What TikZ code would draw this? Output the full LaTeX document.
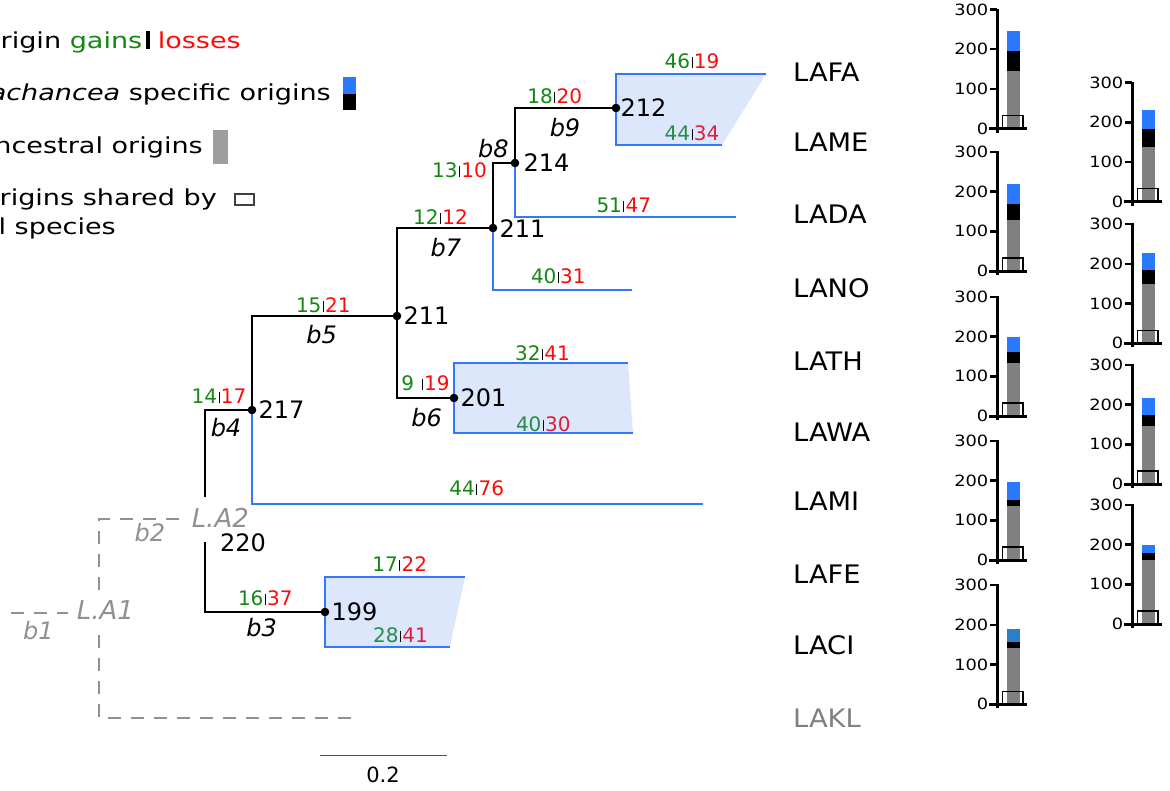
\documentclass[tikz,border=0pt]{standalone}
\usepackage{fontspec}
\setmainfont{DejaVu Sans}
\newfontfamily\legf{DejaVu Sans}[FakeStretch=1.23]
\newfontfamily\taxf{DejaVu Sans}[FakeStretch=1.07]
\newfontfamily\tickf{DejaVu Sans}[FakeStretch=1.15]
\definecolor{ggreen}{RGB}{20,135,20}
\definecolor{lred}{RGB}{255,10,10}
\definecolor{bgreen}{RGB}{40,140,70}
\definecolor{bred}{RGB}{225,30,60}
\definecolor{treeblue}{RGB}{50,120,255}
\definecolor{boxfill}{RGB}{221,231,252}
\definecolor{barblue}{RGB}{41,121,255}
\definecolor{barteal}{RGB}{41,128,200}
\definecolor{bargray}{RGB}{128,128,128}
\definecolor{leggray}{RGB}{158,158,158}
\definecolor{dashgray}{RGB}{145,145,145}
\definecolor{scalegray}{RGB}{80,80,80}
\newcommand\gl[2]{{\color{ggreen}#1}\kern1.5pt{\color{black}\rule[0.5pt]{0.7pt}{11pt}}\kern1.5pt{\color{lred}#2}}
\newcommand\glb[2]{{\color{bgreen}#1}\kern1.5pt{\color{black}\rule[0.5pt]{0.7pt}{11pt}}\kern1.5pt{\color{bred}#2}}
\newcommand\mybarchart[6]{%
  \fill[bargray] (#1+9.5,#2) rectangle (#1+23,#2-#3*0.397);
  \fill[black] (#1+9.5,#2-#3*0.397) rectangle (#1+23,#2-#4*0.397);
  \fill[#6] (#1+9.5,#2-#4*0.397) rectangle (#1+23,#2-#5*0.397);
  \draw[line width=1.4pt] (#1+5.5,#2) rectangle (#1+26,#2-33*0.397);
  \draw[line width=3pt] (#1,#2+4) -- (#1,#2-120);
  \draw[line width=3pt] (#1-8,#2) -- (#1+30,#2);
  \foreach \v in {0,100,200,300}{%
    \draw[line width=2.5pt] (#1-7,#2-\v*0.397) -- (#1,#2-\v*0.397);
    \node[ticklab] at (#1-8.5,#2-\v*0.397) {\v};}%
}
\begin{document}
\begin{tikzpicture}[x=1pt,y=-1pt,
  tree/.style={line width=2.2pt,color=black},
  btree/.style={line width=2.2pt,color=treeblue},
  grdash/.style={line width=2.2pt,color=dashgray,dash pattern=on 13pt off 10pt},
  leg/.style={inner sep=0pt,anchor=base east,font=\legf\fontsize{22}{26}\selectfont},
  taxon/.style={anchor=west,inner sep=0pt,font=\taxf\fontsize{25.5}{25}\selectfont},
  numlab/.style={anchor=west,inner sep=0pt,font=\fontsize{24}{24}\selectfont},
  gllab/.style={inner sep=0pt,font=\fontsize{20}{20}\selectfont},
  blab/.style={inner sep=0pt,font=\fontsize{24}{24}\selectfont\itshape},
  galab/.style={inner sep=0pt,text=dashgray,font=\fontsize{26}{26}\selectfont\itshape},
  ticklab/.style={anchor=east,inner sep=0pt,font=\tickf\fontsize{15.5}{16}\selectfont},
  dot/.style={fill=black}]
\useasboundingbox (0,0) rectangle (1170,790);
\clip (0,0) rectangle (1170,790);
\fill[white] (0,0) rectangle (1170,790);

% legend
\node[leg] (leg1) at (241,48) {Origin {\color{ggreen}gains}\kern4pt\rule[-1.3pt]{3.5pt}{18.6pt}\kern8pt{\color{lred}losses}};
\node[leg] (leg2) at (331,100) {\textit{Lachancea} specific origins};
\fill[barblue] (343,77) rectangle (356,93.5);
\fill[black] (343,93.5) rectangle (356,110);
\node[leg] (leg3) at (203,153) {Ancestral origins};
\fill[leggray] (213,130) rectangle (228,164);
\node[leg] (leg4) at (217,205) {Origins shared by};
\draw[line width=1.5pt,color=black!75,fill=white] (235,194) rectangle (254,205);
\node[leg] (leg5) at (116,234) {all species};

% coordinates of tree nodes
\coordinate (d217) at (252,410);
\coordinate (d211a) at (397,316);
\coordinate (d211b) at (493,228);
\coordinate (d214) at (515,163);
\coordinate (d212) at (616,108);
\coordinate (d201) at (454,398);
\coordinate (d199) at (325,612);
\coordinate (a2up) at (205,497);
\coordinate (a2dn) at (205,542);
\coordinate (eLAMI) at (703,504);
\coordinate (eLANO) at (632,290);
\coordinate (eLADA) at (736,217);

% collapsed clades
\fill[boxfill] (616,74) -- (766,74) -- (722,145) -- (616,145) -- cycle;
\draw[btree] (722,145) -- (616,145) -- (616,74) -- (766,74);
\fill[boxfill] (454,363) -- (628,363) -- (633,433) -- (454,433) -- cycle;
\draw[btree] (633,433) -- (454,433) -- (454,363) -- (628,363);
\fill[boxfill] (325,577) -- (465,577) -- (450,647) -- (325,647) -- cycle;
\draw[btree] (450,647) -- (325,647) -- (325,577) -- (465,577);

% blue terminal branches
\draw[btree] (d217) |- (eLAMI);
\draw[btree] (d211b) |- (eLANO);
\draw[btree] (d214) |- (eLADA);

% black branches
\draw[tree] (a2up) |- (d217);
\draw[tree] (d217) |- (d211a);
\draw[tree] (d211a) |- (d211b);
\draw[tree] (d211a) |- (d201);
\draw[tree] (d211b) |- (d214);
\draw[tree] (d214) |- (d212);
\draw[tree] (a2dn) |- (d199);
\foreach \p in {d217,d211a,d211b,d214,d212,d201,d199}
  \fill[dot] (\p) circle[radius=4.3pt];

% dashed ancestral branches
\coordinate (b1s) at (11,613);
\coordinate (b1e) at (68,613);
\coordinate (vtop) at (99,519);
\coordinate (vgap1) at (99,590);
\coordinate (vgap2) at (99,635);
\coordinate (vbot) at (99,718);
\coordinate (a2w) at (180,519);
\coordinate (klend) at (356,718);
\draw[grdash] (b1s) -- (b1e);
\draw[grdash] (vgap1) -- (vtop) -- (a2w);
\draw[grdash] (vgap2) -- (vbot) -- (klend);

% node values
\node[numlab] (n217) at (258.5,410) {217};
\node[numlab] (n211a) at (403.5,316) {211};
\node[numlab] (n211b) at (499.5,228.5) {211};
\node[numlab] (n214) at (523.5,163) {214};
\node[numlab] (n212) at (620.5,108) {212};
\node[numlab] (n201) at (460.5,398) {201};
\node[numlab] (n199) at (331.5,612) {199};
\node[numlab,anchor=center] (n220) at (243,543) {220};

% gains | losses
\node[gllab] (g46) at (692,61.5) {\gl{46}{19}};
\node[gllab] (g44a) at (692,133.5) {\glb{44}{34}};
\node[gllab] (g18) at (554.7,96.7) {\gl{18}{20}};
\node[gllab] (g13) at (459.5,170) {\gl{13}{10}};
\node[gllab] (g12) at (440.5,216.7) {\gl{12}{12}};
\node[gllab] (g51) at (623.8,205.3) {\gl{51}{47}};
\node[gllab] (g40a) at (558.3,276.7) {\gl{40}{31}};
\node[gllab] (g15) at (323.3,305) {\gl{15}{21}};
\node[gllab] (g14) at (219,396.3) {\gl{14}{17}};
\node[gllab] (g9) at (425.5,383.3) {\gl{9 }{19}};
\node[gllab] (g32) at (542.5,353) {\gl{32}{41}};
\node[gllab] (g40b) at (543.3,424) {\glb{40}{30}};
\node[gllab] (g44b) at (476.7,488.7) {\gl{44}{76}};
\node[gllab] (g17) at (399.7,563.8) {\gl{17}{22}};
\node[gllab] (g16) at (265.3,598.7) {\gl{16}{37}};
\node[gllab] (g28) at (400.5,635.3) {\glb{28}{41}};

% branch names
\node[blab] (b9) at (565,127.5) {b9};
\node[blab] (b8) at (493.3,148.7) {b8};
\node[blab] (b7) at (445.8,247.5) {b7};
\node[blab] (b5) at (321.7,335) {b5};
\node[blab] (b6) at (426.7,417.5) {b6};
\node[blab] (b4) at (226,428) {b4};
\node[blab] (b3) at (261.7,627.5) {b3};
\node[blab,text=dashgray] (b2) at (150,532.5) {b2};
\node[blab,text=dashgray] (b1) at (38.3,631) {b1};
\node[galab] (LA2) at (220.3,517.8) {L.A2};
\node[galab] (LA1) at (105.5,610.5) {L.A1};

% scale bar
\coordinate (sb1) at (320,755.5);
\coordinate (sb2) at (447,755.5);
\draw[line width=1.5pt,color=scalegray] (sb1) -- (sb2);
\node[inner sep=0pt,font=\fontsize{21}{21}\selectfont] (sblab) at (383,775) {0.2};

% taxa
\node[taxon] (LAFA) at (793,72.5) {LAFA};
\node[taxon] (LAME) at (793,142.5) {LAME};
\node[taxon] (LADA) at (793,214) {LADA};
\node[taxon] (LANO) at (793,288) {LANO};
\node[taxon] (LATH) at (793,361) {LATH};
\node[taxon] (LAWA) at (793,432) {LAWA};
\node[taxon] (LAMI) at (793,501) {LAMI};
\node[taxon] (LAFE) at (793,574) {LAFE};
\node[taxon] (LACI) at (793,645) {LACI};
\node[taxon,text=bargray] (LAKL) at (793,718) {LAKL};

% bar charts
\mybarchart{997}{128.5}{144}{196}{246}{barblue}
\mybarchart{997}{271}{128}{168}{219}{barblue}
\mybarchart{997}{416}{133}{161}{198}{barblue}
\mybarchart{997}{560}{135}{150}{197}{barblue}
\mybarchart{997}{704.3}{141}{158}{190}{barteal}
\mybarchart{1132}{201.7}{139}{183}{230}{barblue}
\mybarchart{1132}{343.3}{149}{184}{228}{barblue}
\mybarchart{1132}{484}{145}{173}{217}{barblue}
\mybarchart{1132}{624}{162}{178}{198}{barblue}
\end{tikzpicture}
\end{document}
